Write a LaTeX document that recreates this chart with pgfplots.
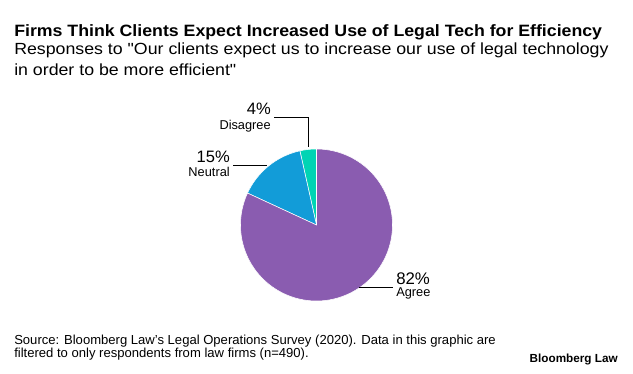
\documentclass[border=0pt]{standalone}
\usepackage{pgfplots}
\pgfplotsset{compat=1.18}
\usepackage{fontspec}
\setmainfont{Liberation Sans}
\definecolor{agreec}{RGB}{138,92,176}
\definecolor{neutralc}{RGB}{18,156,216}
\definecolor{disagreec}{RGB}{0,212,180}
\newcommand\dq{\XeTeXglyph\XeTeXcharglyph"22\relax}
% shares of responses (percent)
\def\vDisagree{3.5}
\def\vNeutral{14.6}
\def\vAgree{81.9}
\begin{document}
\begin{tikzpicture}
\pgfmathsetmacro{\aA}{90}
\pgfmathsetmacro{\aB}{\aA+3.6*\vDisagree}
\pgfmathsetmacro{\aC}{\aB+3.6*\vNeutral}
\pgfmathsetmacro{\aD}{\aC+3.6*\vAgree}
\begin{axis}[at={(237.375pt,-168.75pt)}, anchor=center, width=114pt, height=114pt,
  scale only axis, xmin=-1, xmax=1, ymin=-1, ymax=1, hide axis, clip=false]
\addplot[fill=disagreec, draw=white, line width=0.4pt, domain=\aA:\aB, samples=20] ({cos(x)},{sin(x)}) -- (axis cs:0,0) -- cycle;
\addplot[fill=neutralc, draw=white, line width=0.4pt, domain=\aB:\aC, samples=40] ({cos(x)},{sin(x)}) -- (axis cs:0,0) -- cycle;
\addplot[fill=agreec, draw=white, line width=0.4pt, domain=\aC:\aD, samples=150] ({cos(x)},{sin(x)}) -- (axis cs:0,0) -- cycle;
\end{axis}
\begin{scope}[x=0.75pt,y=-0.75pt]
\path[use as bounding box] (0,0) rectangle (633,374);
% leaders
\draw[line width=0.75pt] (274,118) -- (308,118) -- (308,147);
\draw[line width=0.75pt] (233,166) -- (267,166);
\draw[line width=0.75pt] (359,288) -- (393,288);
% labels
\node[anchor=base east, inner sep=0pt, font=\fontsize{12.4pt}{14pt}\selectfont] at (271,115) {4\%};
\node[anchor=base east, inner sep=0pt, font=\fontsize{9.6pt}{11pt}\selectfont] at (271,130) {Disagree};
\node[anchor=base east, inner sep=0pt, font=\fontsize{12.4pt}{14pt}\selectfont] at (230,163) {15\%};
\node[anchor=base east, inner sep=0pt, font=\fontsize{9.6pt}{11pt}\selectfont] at (230,177) {Neutral};
\node[anchor=base west, inner sep=0pt, font=\fontsize{12.6pt}{14pt}\selectfont] at (396,285) {82\%};
\node[anchor=base west, inner sep=0pt, font=\fontsize{9.6pt}{11pt}\selectfont] at (396,297) {Agree};
% titles
\node[anchor=base west, inner sep=0pt, font=\bfseries\fontsize{12.3pt}{15pt}\selectfont] at (14,37) {\scalebox{1.081}[1]{Firms Think Clients Expect Increased Use of Legal Tech for Efficiency}};
\node[anchor=base west, inner sep=0pt, font=\fontsize{12.1pt}{15pt}\selectfont] at (14,55) {\scalebox{1.10}[1]{Responses to \dq Our clients expect us to increase our use of legal technology}};
\node[anchor=base west, inner sep=0pt, font=\fontsize{12.1pt}{15pt}\selectfont] at (14,76) {\scalebox{1.10}[1]{in order to be more efficient\dq}};
% footer
\node[anchor=base west, inner sep=0pt, font=\fontsize{9.8pt}{11pt}\selectfont] at (14,345) {Source: Bloomberg Law's Legal Operations Survey (2020). Data in this graphic are};
\node[anchor=base west, inner sep=0pt, font=\fontsize{9.8pt}{11pt}\selectfont] at (14,358) {filtered to only respondents from law firms (n=490).};
\node[anchor=base east, inner sep=0pt, font=\bfseries\fontsize{8.8pt}{10pt}\selectfont] at (618,363) {Bloomberg Law};
\end{scope}
\end{tikzpicture}
\end{document}
